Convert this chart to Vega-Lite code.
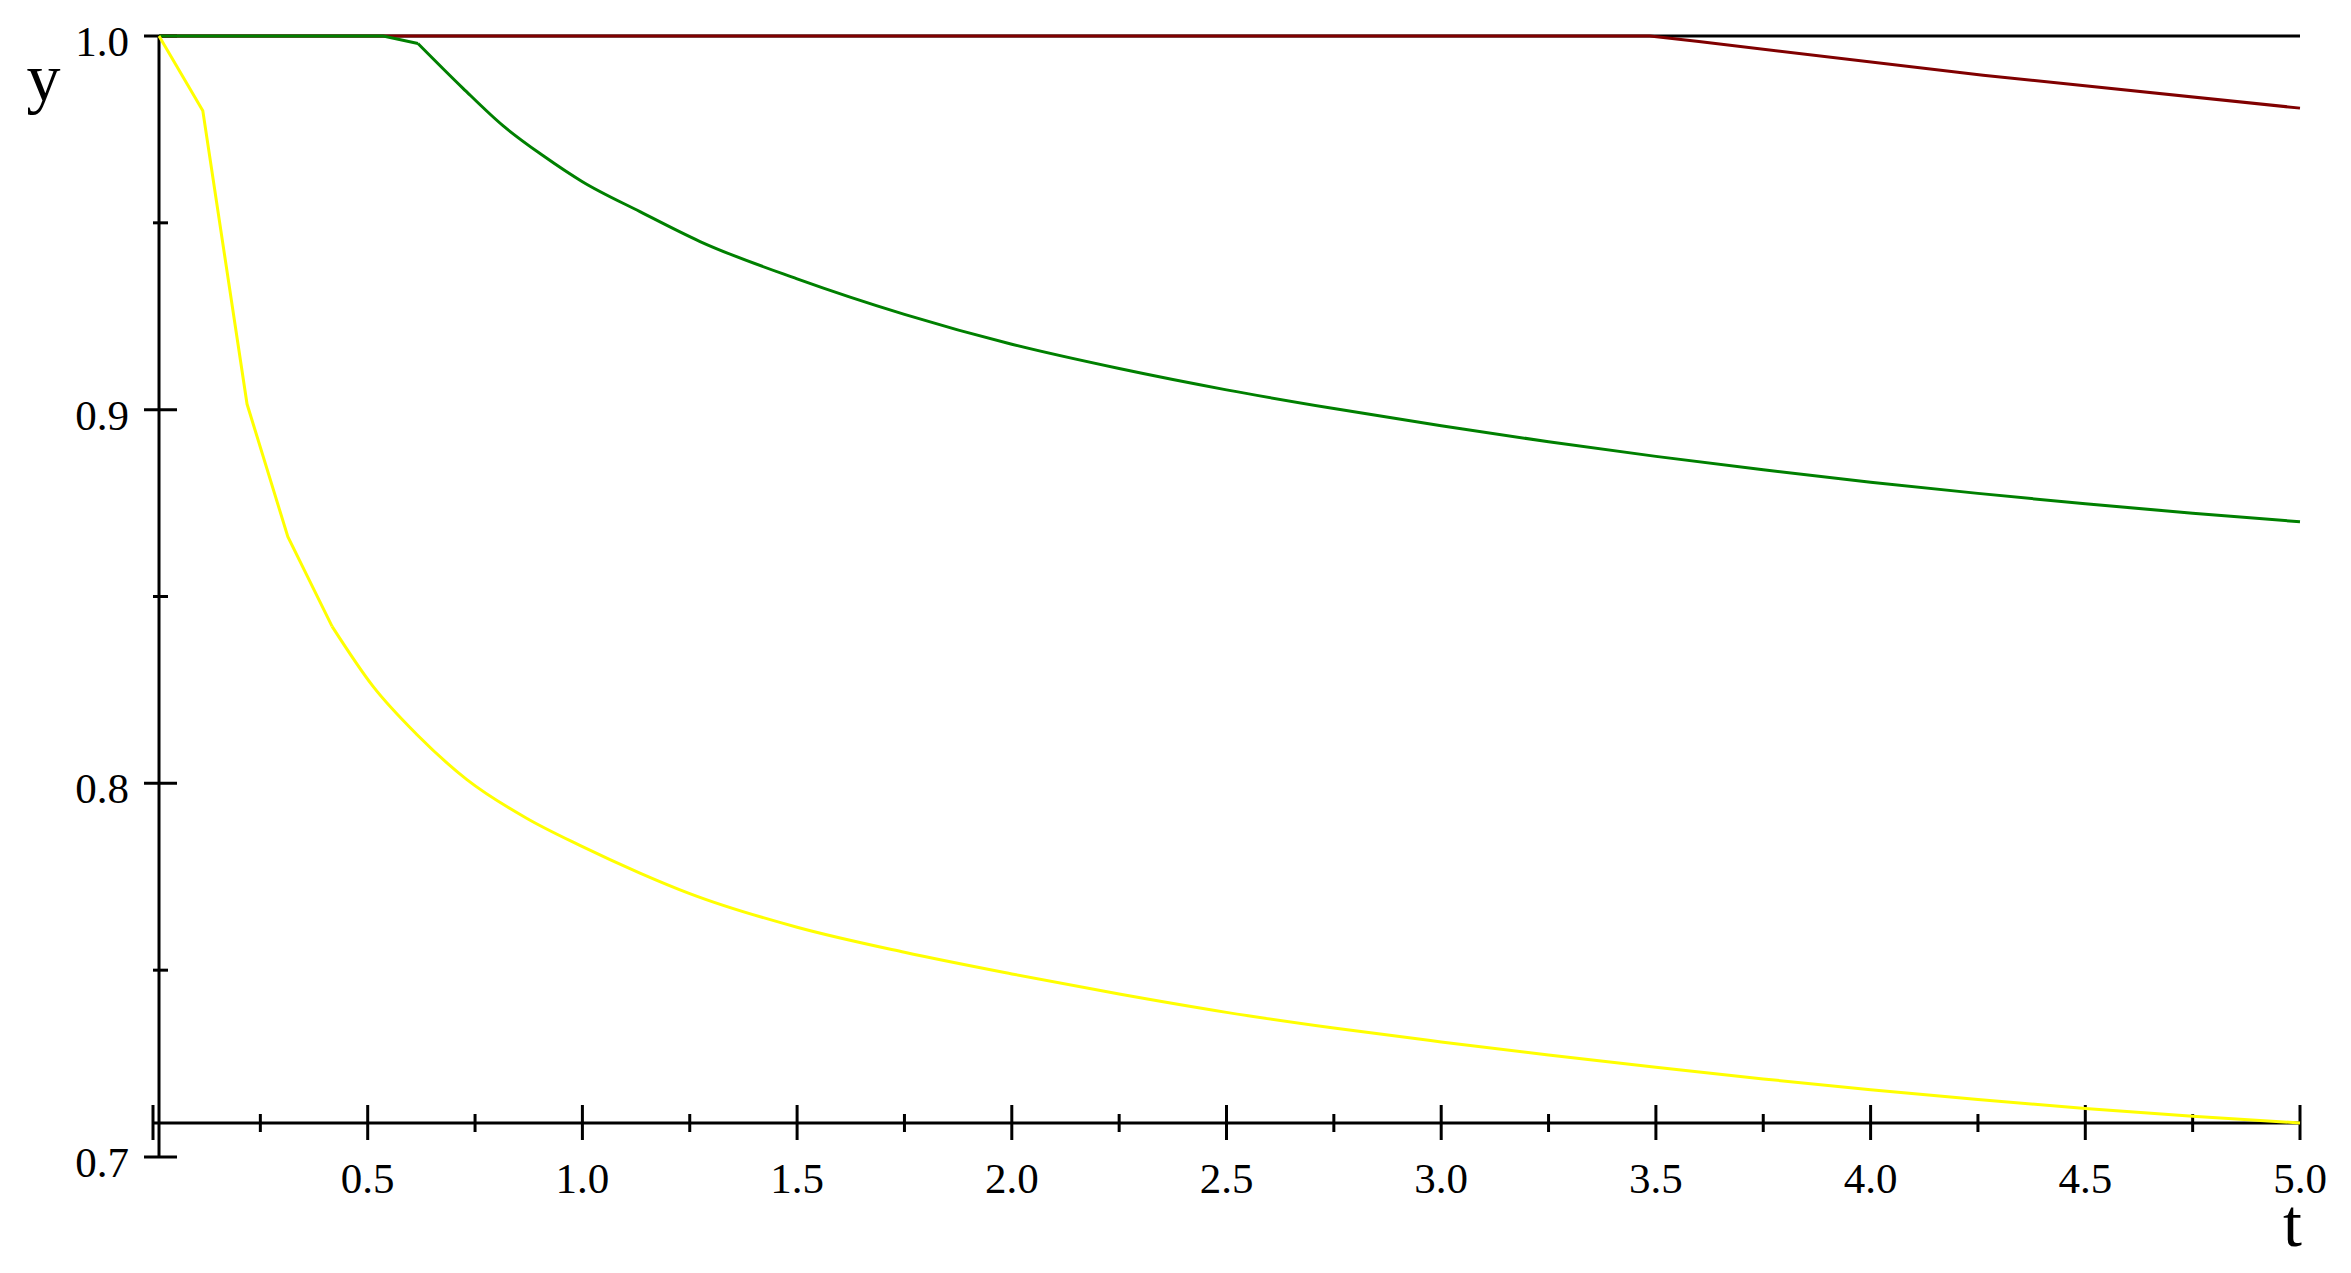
{
  "$schema": "https://vega.github.io/schema/vega-lite/v6.json",
  "width": 2147,
  "height": 1121,
  "autosize": {"type": "none"},
  "padding": {"left": 153, "top": 36, "right": 51, "bottom": 116},
  "background": "white",
  "config": {"view": {"stroke": null}},
  "datasets": {
    "curves": [
      {"series": "black", "t": 0.014, "y": 1.0},
      {"series": "black", "t": 5.0, "y": 1.0},
      {"series": "red", "t": 0.014, "y": 1.0},
      {"series": "red", "t": 3.486, "y": 1.0},
      {"series": "red", "t": 3.6, "y": 0.9985},
      {"series": "red", "t": 4.262, "y": 0.9895},
      {"series": "red", "t": 5.0, "y": 0.9807},
      {"series": "green", "t": 0.014, "y": 1.0},
      {"series": "green", "t": 0.536, "y": 1.0},
      {"series": "green", "t": 0.617, "y": 0.998},
      {"series": "green", "t": 0.722, "y": 0.986},
      {"series": "green", "t": 0.815, "y": 0.976},
      {"series": "green", "t": 0.908, "y": 0.968},
      {"series": "green", "t": 1.0, "y": 0.961},
      {"series": "green", "t": 1.134, "y": 0.953},
      {"series": "green", "t": 1.274, "y": 0.945},
      {"series": "green", "t": 1.5, "y": 0.935},
      {"series": "green", "t": 1.75, "y": 0.9255},
      {"series": "green", "t": 2.0, "y": 0.9175},
      {"series": "green", "t": 2.25, "y": 0.911},
      {"series": "green", "t": 2.5, "y": 0.9053},
      {"series": "green", "t": 2.75, "y": 0.9003},
      {"series": "green", "t": 3.0, "y": 0.8957},
      {"series": "green", "t": 3.25, "y": 0.8914},
      {"series": "green", "t": 3.5, "y": 0.8875},
      {"series": "green", "t": 3.75, "y": 0.8839},
      {"series": "green", "t": 4.0, "y": 0.8806},
      {"series": "green", "t": 4.25, "y": 0.8776},
      {"series": "green", "t": 4.5, "y": 0.8748},
      {"series": "green", "t": 4.75, "y": 0.8723},
      {"series": "green", "t": 5.0, "y": 0.87},
      {"series": "yellow", "t": 0.014, "y": 1.0},
      {"series": "yellow", "t": 0.116, "y": 0.98},
      {"series": "yellow", "t": 0.219, "y": 0.9015},
      {"series": "yellow", "t": 0.314, "y": 0.866},
      {"series": "yellow", "t": 0.417, "y": 0.842},
      {"series": "yellow", "t": 0.512, "y": 0.826},
      {"series": "yellow", "t": 0.615, "y": 0.813},
      {"series": "yellow", "t": 0.731, "y": 0.801},
      {"series": "yellow", "t": 0.871, "y": 0.7906},
      {"series": "yellow", "t": 0.994, "y": 0.7834},
      {"series": "yellow", "t": 1.134, "y": 0.776},
      {"series": "yellow", "t": 1.25, "y": 0.7705},
      {"series": "yellow", "t": 1.5, "y": 0.7615},
      {"series": "yellow", "t": 1.75, "y": 0.7548},
      {"series": "yellow", "t": 2.0, "y": 0.749},
      {"series": "yellow", "t": 2.25, "y": 0.7436},
      {"series": "yellow", "t": 2.5, "y": 0.7387},
      {"series": "yellow", "t": 2.75, "y": 0.7345},
      {"series": "yellow", "t": 3.0, "y": 0.7308},
      {"series": "yellow", "t": 3.25, "y": 0.7273},
      {"series": "yellow", "t": 3.5, "y": 0.724},
      {"series": "yellow", "t": 3.75, "y": 0.7209},
      {"series": "yellow", "t": 4.0, "y": 0.718},
      {"series": "yellow", "t": 4.25, "y": 0.7154},
      {"series": "yellow", "t": 4.5, "y": 0.713},
      {"series": "yellow", "t": 4.75, "y": 0.7109},
      {"series": "yellow", "t": 5.0, "y": 0.7091}
    ],
    "xticks": [
      {"t": 0.0, "kind": "major", "label": ""},
      {"t": 0.25, "kind": "minor", "label": ""},
      {"t": 0.5, "kind": "major", "label": "0.5"},
      {"t": 0.75, "kind": "minor", "label": ""},
      {"t": 1.0, "kind": "major", "label": "1.0"},
      {"t": 1.25, "kind": "minor", "label": ""},
      {"t": 1.5, "kind": "major", "label": "1.5"},
      {"t": 1.75, "kind": "minor", "label": ""},
      {"t": 2.0, "kind": "major", "label": "2.0"},
      {"t": 2.25, "kind": "minor", "label": ""},
      {"t": 2.5, "kind": "major", "label": "2.5"},
      {"t": 2.75, "kind": "minor", "label": ""},
      {"t": 3.0, "kind": "major", "label": "3.0"},
      {"t": 3.25, "kind": "minor", "label": ""},
      {"t": 3.5, "kind": "major", "label": "3.5"},
      {"t": 3.75, "kind": "minor", "label": ""},
      {"t": 4.0, "kind": "major", "label": "4.0"},
      {"t": 4.25, "kind": "minor", "label": ""},
      {"t": 4.5, "kind": "major", "label": "4.5"},
      {"t": 4.75, "kind": "minor", "label": ""},
      {"t": 5.0, "kind": "major", "label": "5.0"}
    ],
    "yticks": [
      {"v": 0.7, "kind": "major", "label": "0.7"},
      {"v": 0.75, "kind": "minor", "label": ""},
      {"v": 0.8, "kind": "major", "label": "0.8"},
      {"v": 0.85, "kind": "minor", "label": ""},
      {"v": 0.9, "kind": "major", "label": "0.9"},
      {"v": 0.95, "kind": "minor", "label": ""},
      {"v": 1.0, "kind": "major", "label": "1.0"}
    ]
  },
  "layer": [
    {
      "data": {"name": "xticks"},
      "transform": [{"filter": "datum.kind === 'major'"}],
      "mark": {"type": "rule", "color": "black", "strokeWidth": 3, "yOffset": -18, "y2Offset": 17},
      "encoding": {
        "x": {
          "field": "t", "type": "quantitative",
          "scale": {"domain": [0, 5], "nice": false, "zero": false},
          "axis": {
            "title": "t", "domain": false, "ticks": false, "labels": false, "grid": false,
            "titleX": 2139, "titleY": 88, "titleAlign": "center", "titleBaseline": "alphabetic",
            "titleFont": "Liberation Serif", "titleFontSize": 68, "titleFontWeight": "normal", "titleColor": "black"
          }
        },
        "y": {
          "datum": 0.7091, "type": "quantitative",
          "scale": {"domain": [0.7, 1.0], "nice": false, "zero": false},
          "axis": {
            "title": "y", "domain": false, "ticks": false, "labels": false, "grid": false,
            "titleAngle": 0, "titleX": -110, "titleY": 64, "titleAlign": "center", "titleBaseline": "alphabetic",
            "titleFont": "Liberation Serif", "titleFontSize": 68, "titleFontWeight": "normal", "titleColor": "black"
          }
        },
        "y2": {"datum": 0.7091}
      }
    },
    {
      "data": {"name": "xticks"},
      "transform": [{"filter": "datum.kind === 'minor'"}],
      "mark": {"type": "rule", "color": "black", "strokeWidth": 3, "yOffset": -9, "y2Offset": 9},
      "encoding": {
        "x": {"field": "t", "type": "quantitative"},
        "y": {"datum": 0.7091, "type": "quantitative"},
        "y2": {"datum": 0.7091}
      }
    },
    {
      "data": {"name": "xticks"},
      "transform": [{"filter": "datum.label !== ''"}],
      "mark": {"type": "text", "color": "black", "font": "Liberation Serif", "fontSize": 43, "align": "center", "baseline": "alphabetic", "yOffset": 70},
      "encoding": {
        "x": {"field": "t", "type": "quantitative"},
        "y": {"datum": 0.7091, "type": "quantitative"},
        "text": {"field": "label"}
      }
    },
    {
      "data": {"name": "yticks"},
      "transform": [{"filter": "datum.kind === 'major'"}],
      "mark": {"type": "rule", "color": "black", "strokeWidth": 3, "xOffset": -15, "x2Offset": 18},
      "encoding": {
        "y": {"field": "v", "type": "quantitative"},
        "x": {"datum": 0.014, "type": "quantitative"},
        "x2": {"datum": 0.014}
      }
    },
    {
      "data": {"name": "yticks"},
      "transform": [{"filter": "datum.kind === 'minor'"}],
      "mark": {"type": "rule", "color": "black", "strokeWidth": 3, "xOffset": -6, "x2Offset": 9},
      "encoding": {
        "y": {"field": "v", "type": "quantitative"},
        "x": {"datum": 0.014, "type": "quantitative"},
        "x2": {"datum": 0.014}
      }
    },
    {
      "data": {"name": "yticks"},
      "transform": [{"filter": "datum.label !== ''"}],
      "mark": {"type": "text", "color": "black", "font": "Liberation Serif", "fontSize": 43, "align": "right", "baseline": "alphabetic", "xOffset": -30, "yOffset": 20},
      "encoding": {
        "y": {"field": "v", "type": "quantitative"},
        "x": {"datum": 0.014, "type": "quantitative"},
        "text": {"field": "label"}
      }
    },
    {
      "data": {"values": [{}]},
      "mark": {"type": "rule", "color": "black", "strokeWidth": 3},
      "encoding": {
        "x": {"datum": 0, "type": "quantitative"},
        "x2": {"datum": 5},
        "y": {"datum": 0.7091, "type": "quantitative"}
      }
    },
    {
      "data": {"values": [{}]},
      "mark": {"type": "rule", "color": "black", "strokeWidth": 3},
      "encoding": {
        "x": {"datum": 0.014, "type": "quantitative"},
        "y": {"datum": 0.7, "type": "quantitative"},
        "y2": {"datum": 1.0}
      }
    },
    {
      "data": {"name": "curves"},
      "transform": [{"filter": "datum.series === 'black'"}],
      "mark": {"type": "line", "color": "black", "strokeWidth": 3},
      "encoding": {
        "x": {"field": "t", "type": "quantitative"},
        "y": {"field": "y", "type": "quantitative"}
      }
    },
    {
      "data": {"name": "curves"},
      "transform": [{"filter": "datum.series === 'red'"}],
      "mark": {"type": "line", "color": "#800000", "strokeWidth": 3},
      "encoding": {
        "x": {"field": "t", "type": "quantitative"},
        "y": {"field": "y", "type": "quantitative"}
      }
    },
    {
      "data": {"name": "curves"},
      "transform": [{"filter": "datum.series === 'green' && datum.t <= 0.617"}],
      "mark": {"type": "line", "color": "#008000", "strokeWidth": 3},
      "encoding": {
        "x": {"field": "t", "type": "quantitative"},
        "y": {"field": "y", "type": "quantitative"}
      }
    },
    {
      "data": {"name": "curves"},
      "transform": [{"filter": "datum.series === 'green' && datum.t >= 0.617"}],
      "mark": {"type": "line", "color": "#008000", "strokeWidth": 3, "interpolate": "monotone"},
      "encoding": {
        "x": {"field": "t", "type": "quantitative"},
        "y": {"field": "y", "type": "quantitative"}
      }
    },
    {
      "data": {"name": "curves"},
      "transform": [{"filter": "datum.series === 'yellow' && datum.t <= 0.417"}],
      "mark": {"type": "line", "color": "#FFFF00", "strokeWidth": 3},
      "encoding": {
        "x": {"field": "t", "type": "quantitative"},
        "y": {"field": "y", "type": "quantitative"}
      }
    },
    {
      "data": {"name": "curves"},
      "transform": [{"filter": "datum.series === 'yellow' && datum.t >= 0.417"}],
      "mark": {"type": "line", "color": "#FFFF00", "strokeWidth": 3, "interpolate": "monotone"},
      "encoding": {
        "x": {"field": "t", "type": "quantitative"},
        "y": {"field": "y", "type": "quantitative"}
      }
    }
  ]
}
